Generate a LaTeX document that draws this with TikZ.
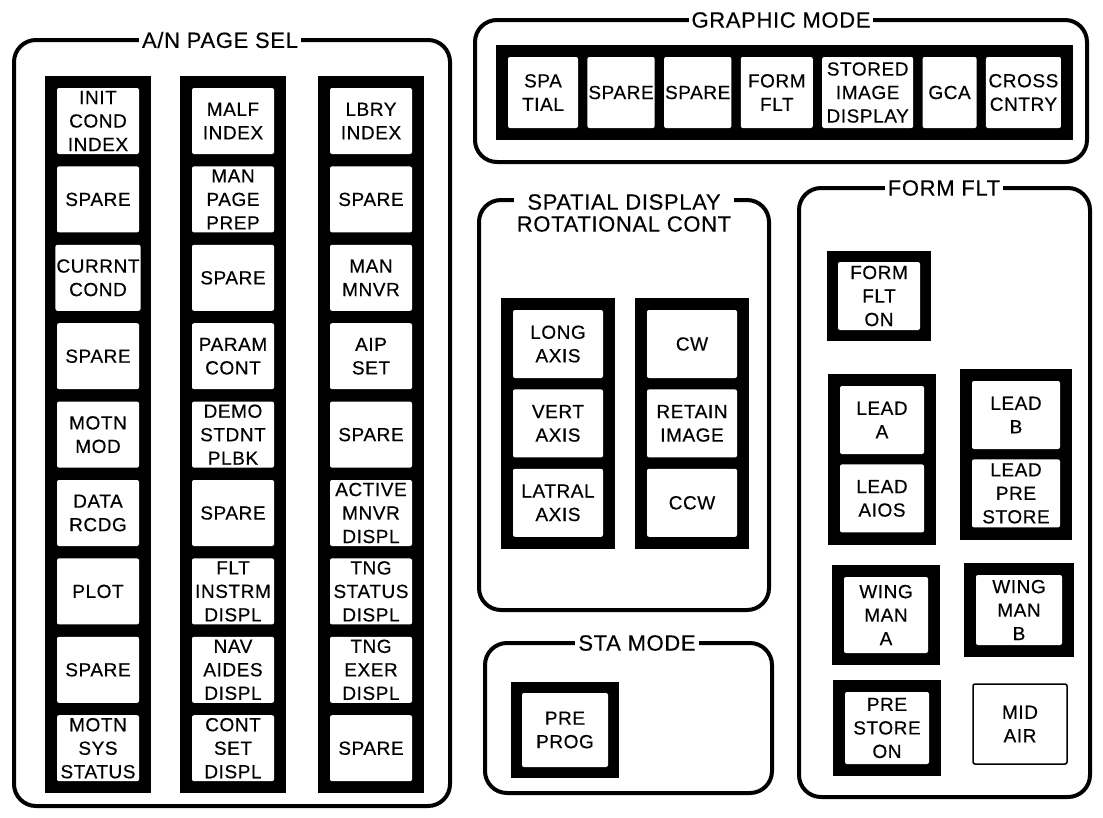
\documentclass[tikz,border=0pt]{standalone}
\usepackage{fontspec}
\setmainfont{Liberation Sans}
\newfontfamily\panelfont{Liberation Sans}[LetterSpace=3.0, FakeBold=0.4]
\usetikzlibrary{positioning,fit,backgrounds}

\begin{document}
\begin{tikzpicture}[x=1pt, y=-1pt, node distance=12pt,
  every node/.style={font=\panelfont\fontsize{19}{23.5}\selectfont},
  frame/.style={draw, line width=4pt, rounded corners=22pt},
  title/.style={fill=white, inner xsep=3pt, inner ysep=1pt, align=center, font=\panelfont\fontsize{22}{22}\selectfont},
  btn/.style={fill=white, rounded corners=2pt, align=center, inner sep=1pt},
  anbtn/.style={btn, minimum width=82pt, minimum height=66pt},
  gmbtn/.style={btn, minimum height=71pt},
  spbtn/.style={btn, minimum width=90pt, minimum height=68pt},
  ffbtn/.style={btn, minimum width=84pt, minimum height=68pt},
  strip/.style={fill=black, inner sep=12pt}]
\useasboundingbox (0,0) rectangle (1103,817);

\draw[frame] (14,40) rectangle (450,806);
\draw[frame] (475,20) rectangle (1087,162);
\draw[frame] (479,200) rectangle (769,610);
\draw[frame] (485,643) rectangle (772,793);
\draw[frame] (799,188) rectangle (1090,797);
\node[title] (antitle) at (220,40) {A/N PAGE SEL};
\node[title] (gmtitle) at (781,20) {GRAPHIC MODE};
\node[title] (sptitle) at (624,213) {SPATIAL DISPLAY\\ROTATIONAL CONT};
\node[title] (statitle) at (637,643) {STA MODE};
\node[title] (fftitle) at (944,188) {FORM FLT};

\node[anbtn] (initcond) at (98,121) {INIT\\COND\\INDEX};
\node[anbtn, below=of initcond] (spare1) {SPARE};
\node[anbtn, below=of spare1] (currnt) {CURRNT\\COND};
\node[anbtn, below=of currnt] (spare2) {SPARE};
\node[anbtn, below=of spare2] (motnmod) {MOTN\\MOD};
\node[anbtn, below=of motnmod] (datarcdg) {DATA\\RCDG};
\node[anbtn, below=of datarcdg] (plot) {PLOT};
\node[anbtn, below=of plot] (spare3) {SPARE};
\node[anbtn, below=of spare3] (motnsys) {MOTN\\SYS\\STATUS};

\node[anbtn] (malf) at (233,121) {MALF\\INDEX};
\node[anbtn, below=of malf] (manpage) {MAN\\PAGE\\PREP};
\node[anbtn, below=of manpage] (spare4) {SPARE};
\node[anbtn, below=of spare4] (param) {PARAM\\CONT};
\node[anbtn, below=of param] (demo) {DEMO\\STDNT\\PLBK};
\node[anbtn, below=of demo] (spare5) {SPARE};
\node[anbtn, below=of spare5] (fltinstrm) {FLT\\INSTRM\\DISPL};
\node[anbtn, below=of fltinstrm] (navaides) {NAV\\AIDES\\DISPL};
\node[anbtn, below=of navaides] (contset) {CONT\\SET\\DISPL};

\node[anbtn] (lbry) at (371,121) {LBRY\\INDEX};
\node[anbtn, below=of lbry] (spare6) {SPARE};
\node[anbtn, below=of spare6] (manmnvr) {MAN\\MNVR};
\node[anbtn, below=of manmnvr] (aipset) {AIP\\SET};
\node[anbtn, below=of aipset] (spare7) {SPARE};
\node[anbtn, below=of spare7] (active) {ACTIVE\\MNVR\\DISPL};
\node[anbtn, below=of active] (tngstatus) {TNG\\STATUS\\DISPL};
\node[anbtn, below=of tngstatus] (tngexer) {TNG\\EXER\\DISPL};
\node[anbtn, below=of tngexer] (spare8) {SPARE};

\node[gmbtn, minimum width=70pt] (spatial) at (543,92.5) {SPA\\TIAL};
\node[gmbtn, minimum width=66pt, right=9pt of spatial] (spare9) {SPARE};
\node[gmbtn, minimum width=66pt, right=9pt of spare9] (spare10) {SPARE};
\node[gmbtn, minimum width=72pt, right=9pt of spare10] (formflt) {FORM\\FLT};
\node[gmbtn, minimum width=91pt, right=9pt of formflt] (stored) {STORED\\IMAGE\\DISPLAY};
\node[gmbtn, minimum width=54pt, right=9pt of stored] (gca) {GCA};
\node[gmbtn, minimum width=75pt, right=9pt of gca] (cross) {CROSS\\CNTRY};

\node[spbtn] (longaxis) at (558,344) {LONG\\AXIS};
\node[spbtn, below=11pt of longaxis] (vertaxis) {VERT\\AXIS};
\node[spbtn, below=11pt of vertaxis] (latral) {LATRAL\\AXIS};
\node[spbtn] (cw) at (692,344) {CW};
\node[spbtn, below=11pt of cw] (retain) {RETAIN\\IMAGE};
\node[spbtn, below=11pt of retain] (ccw) {CCW};

\node[btn, minimum width=86pt, minimum height=74pt] (preprog) at (565,730) {PRE\\PROG};

\node[ffbtn, minimum width=82pt] (formflton) at (879,296) {FORM\\FLT\\ON};
\node[ffbtn] (leada) at (882,420) {LEAD\\A};
\node[ffbtn, below=10pt of leada] (leadaios) {LEAD\\AIOS};
\node[ffbtn, minimum width=88pt] (leadb) at (1016,415) {LEAD\\B};
\node[ffbtn, minimum width=88pt, below=10pt of leadb] (leadpre) {LEAD\\PRE\\STORE};
\node[ffbtn, minimum height=76pt] (wingmana) at (886,615) {WING\\MAN\\A};
\node[ffbtn, minimum width=86pt, minimum height=70pt] (wingmanb) at (1019,610) {WING\\MAN\\B};
\node[ffbtn, minimum height=72pt] (prestore) at (887,728) {PRE\\STORE\\ON};
\node[btn, draw, line width=1.5pt, minimum width=94pt, minimum height=80pt] (midair) at (1020,724) {MID\\AIR};

\begin{scope}[on background layer]
\node[strip, fit=(initcond)(motnsys)] (col1) {};
\node[strip, fit=(malf)(contset)] (col2) {};
\node[strip, fit=(lbry)(spare8)] (col3) {};
\node[strip, fit=(spatial)(cross)] (gmrow) {};
\node[strip, fit=(longaxis)(latral)] (axes) {};
\node[strip, fit=(cw)(ccw)] (rotate) {};
\node[strip, inner sep=11pt, fit=(preprog)] (stabox) {};
\node[strip, inner sep=11pt, fit=(formflton)] (onbox) {};
\node[strip, fit=(leada)(leadaios)] (leadabox) {};
\node[strip, fit=(leadb)(leadpre)] (leadbbox) {};
\node[strip, fit=(wingmana)] (wingabox) {};
\node[strip, fit=(wingmanb)] (wingbbox) {};
\node[strip, fit=(prestore)] (prebox) {};
\end{scope}
\end{tikzpicture}
\end{document}
